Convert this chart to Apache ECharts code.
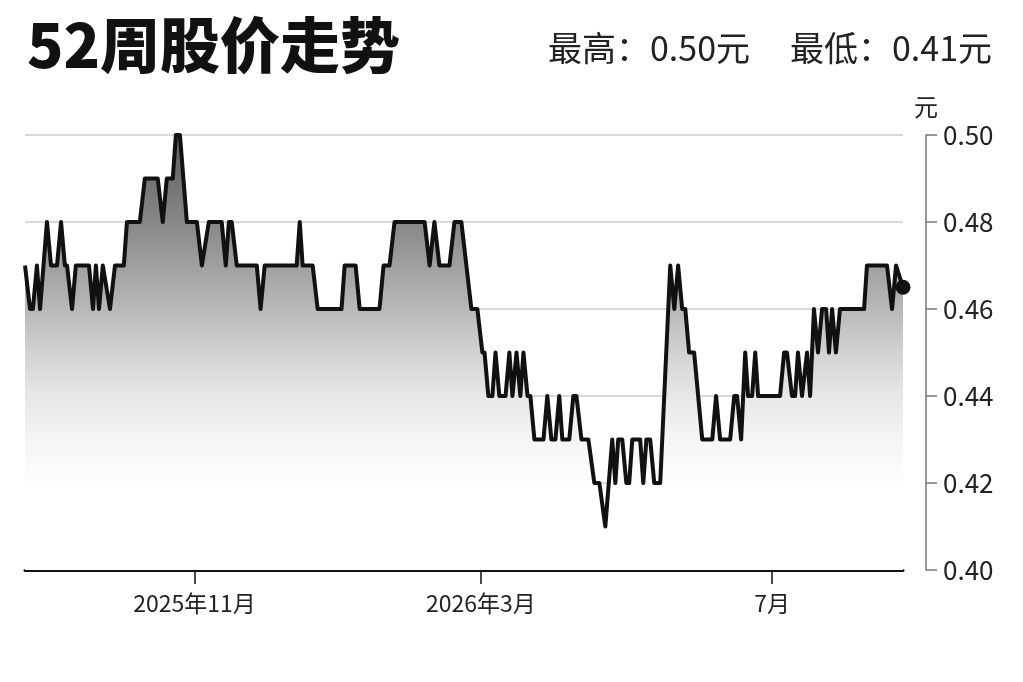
<!DOCTYPE html>
<html>
<head>
<meta charset="utf-8">
<script src="https://cdn.jsdelivr.net/npm/echarts@6/dist/echarts.min.js"></script>
<style>
  html, body { margin: 0; padding: 0; background: #ffffff; }
  #chart { width: 1023px; height: 682px; }
</style>
</head>
<body>
<div id="chart"></div>
<script>
// Days since 2025-08-22 (start of the 52-week window) at each turning point of the price line
const days = [
  0, 2.1, 3.3, 5.0, 6.3, 9.2, 10.9, 13.4, 15.1, 16.7, 17.6, 19.7, 21.3,
  26.8, 28.5, 29.7, 31.0, 32.6, 35.6, 37.7, 41.4, 42.7, 48.1, 50.2, 55.6,
  57.7, 59.4, 61.9, 63.2, 64.9, 67.8, 72.0, 74.1, 74.9, 77.0, 82.4, 84.1,
  85.4, 86.6, 88.7, 97.1, 98.7, 100.4, 113.8, 115.1, 116.3, 120.5, 122.6,
  132.6, 133.9, 138.5, 140.2, 148.5, 150.2, 152.7, 154.8, 167.4, 169.5,
  171.5, 173.6, 177.8, 179.9, 182.8, 187.0, 189.5, 191.6, 192.5, 194.1,
  195.8, 197.1, 198.7, 201.3, 202.9, 204.2, 205.9, 207.5, 208.8, 210.5,
  211.7, 213.4, 217.2, 218.8, 220.5, 222.2, 223.8, 225.1, 228.0, 229.7,
  231.0, 233.1, 236.0, 238.5, 240.6, 243.1, 243.9, 246.0, 247.3, 248.5,
  250.2, 251.9, 253.1, 254.4, 257.7, 259.0, 260.3, 261.9, 263.6, 266.1,
  270.3, 272.0, 273.6, 275.3, 276.6, 278.2, 280.3, 283.7, 287.9, 289.5,
  291.2, 295.4, 297.1, 298.3, 300.0, 301.7, 302.9, 304.6, 305.9, 307.1,
  316.3, 318.0, 319.2, 321.3, 322.6, 323.8, 325.5, 327.6, 328.9, 330.5,
  332.2, 333.9, 335.6, 336.8, 338.1, 339.7, 341.4, 351.5, 352.7, 361.1,
  363.2, 364.9, 365.7, 367.8
];
// Closing price (元) at each of those points
const prices = [
  0.47, 0.46, 0.46, 0.47, 0.46, 0.48, 0.47, 0.47, 0.48, 0.47, 0.47, 0.46, 0.47,
  0.47, 0.46, 0.47, 0.46, 0.47, 0.46, 0.47, 0.47, 0.48, 0.48, 0.49, 0.49,
  0.48, 0.49, 0.49, 0.50, 0.50, 0.48, 0.48, 0.47, 0.47, 0.48, 0.48, 0.47,
  0.48, 0.48, 0.47, 0.47, 0.46, 0.47, 0.47, 0.48, 0.47, 0.47, 0.46,
  0.46, 0.47, 0.47, 0.46, 0.46, 0.47, 0.47, 0.48, 0.48, 0.47,
  0.48, 0.47, 0.47, 0.48, 0.48, 0.46, 0.46, 0.45, 0.45, 0.44,
  0.44, 0.45, 0.44, 0.44, 0.45, 0.44, 0.45, 0.44, 0.45, 0.44,
  0.44, 0.43, 0.43, 0.44, 0.43, 0.43, 0.44, 0.43, 0.43, 0.44,
  0.44, 0.43, 0.43, 0.42, 0.42, 0.41, 0.41, 0.43, 0.42, 0.43,
  0.43, 0.42, 0.42, 0.43, 0.43, 0.42, 0.43, 0.43, 0.42, 0.42,
  0.47, 0.46, 0.47, 0.46, 0.46, 0.45, 0.45, 0.43, 0.43, 0.44,
  0.43, 0.43, 0.44, 0.44, 0.43, 0.45, 0.44, 0.44, 0.45, 0.44,
  0.44, 0.45, 0.45, 0.44, 0.44, 0.45, 0.44, 0.45, 0.44, 0.46,
  0.45, 0.46, 0.46, 0.45, 0.46, 0.45, 0.46, 0.46, 0.47, 0.47,
  0.46, 0.47, 0.47, 0.465
];
// X-axis tick positions (days since 2025-08-22) and their labels
const tickDays = [71, 191, 313];
const tickLabels = ['2025年11月', '2026年3月', '7月'];
// Y-axis range
const yMin = 0.40, yMax = 0.50, yStep = 0.02;
// Header texts
const titleText = '52周股价走势';
const highText = '最高：0.50元';
const lowText = '最低：0.41元';
const unitText = '元';

const FONT = '"Noto Sans CJK SC", "Noto Sans", sans-serif';
const points = days.map((d, i) => [d, prices[i]]);
const lastPoint = points[points.length - 1];

const chart = echarts.init(document.getElementById('chart'), null, { renderer: 'canvas' });
chart.setOption({
  backgroundColor: '#ffffff',
  animation: false,
  textStyle: { fontFamily: FONT },
  title: [
    {
      text: titleText, left: 22, top: 10,
      textStyle: { fontFamily: FONT, fontSize: 60, fontWeight: 900, color: '#111' }
    },
    {
      text: lowText, right: 26, top: 26,
      textStyle: { fontFamily: FONT, fontSize: 34, fontWeight: 'normal', color: '#222' }
    },
    {
      text: highText, right: 268, top: 26,
      textStyle: { fontFamily: FONT, fontSize: 34, fontWeight: 'normal', color: '#222' }
    }
  ],
  grid: { left: 25, right: 120, top: 135, bottom: 112, containLabel: false, outerBoundsMode: 'none' },
  xAxis: {
    type: 'value',
    min: 'dataMin',
    max: 'dataMax',
    splitLine: { show: false },
    axisLine: { show: true, onZero: false, lineStyle: { color: '#111', width: 3 } },
    axisTick: {
      show: true, length: 14, customValues: tickDays,
      lineStyle: { color: '#111', width: 1.5 }
    },
    axisLabel: {
      customValues: tickDays,
      formatter: function (v) {
        const i = tickDays.indexOf(Math.round(v));
        return i >= 0 ? tickLabels[i] : '';
      },
      fontFamily: FONT, fontSize: 23, color: '#222', margin: 22
    }
  },
  yAxis: {
    type: 'value',
    position: 'right',
    offset: 23,
    min: yMin, max: yMax, interval: yStep,
    name: unitText,
    nameLocation: 'end',
    nameGap: 16,
    nameTextStyle: { fontFamily: FONT, fontSize: 24, color: '#222', align: 'center' },
    axisLine: { show: true, onZero: false, lineStyle: { color: '#777', width: 1.5 } },
    axisTick: { show: true, length: 11, lineStyle: { color: '#777', width: 1.5 } },
    axisLabel: {
      fontFamily: FONT, fontSize: 26, color: '#222', margin: 17,
      formatter: v => v.toFixed(2)
    },
    splitLine: { show: true, lineStyle: { color: '#dadada', width: 2 } }
  },
  series: [
    {
      type: 'line',
      data: points,
      showSymbol: false,
      lineStyle: { color: '#111', width: 4, join: 'round' },
      areaStyle: {
        origin: 'start',
        opacity: 1,
        color: new echarts.graphic.LinearGradient(0, 0, 0, 1, [
          { offset: 0, color: '#5c5c5c' },
          { offset: 0.2, color: '#878787' },
          { offset: 0.4, color: '#b8b8b8' },
          { offset: 0.5, color: '#d2d2d2' },
          { offset: 0.6, color: '#e7e7e7' },
          { offset: 0.7, color: '#f5f5f5' },
          { offset: 0.82, color: '#ffffff' },
          { offset: 1, color: '#ffffff' }
        ])
      },
      z: 3
    },
    {
      type: 'scatter',
      data: [lastPoint],
      symbol: 'circle',
      symbolSize: 15,
      itemStyle: { color: '#111', opacity: 1 },
      z: 5
    }
  ]
});
</script>
</body>
</html>
